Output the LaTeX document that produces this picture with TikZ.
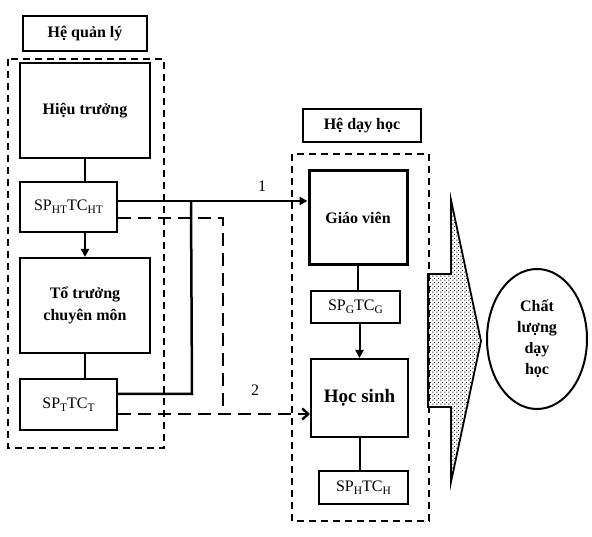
\documentclass[tikz,border=0pt]{standalone}
\usepackage{fontspec}
\setmainfont{Liberation Serif}
\usetikzlibrary{arrows.meta,patterns.meta,calc,shapes.geometric}
\newcommand\lowsub[1]{\raisebox{-0.4ex}{\fontsize{11.5}{11.5}\selectfont #1}}
\tikzdeclarepattern{
  name=sparsedots,
  type=uncolored,
  bottom left={(0pt,0pt)},
  top right={(4pt,4pt)},
  tile size={(4pt,4pt)},
  code={
    \pgfpathrectangle{\pgfpoint{0.6pt}{0.6pt}}{\pgfpoint{1pt}{1pt}}
    \pgfpathrectangle{\pgfpoint{2.6pt}{2.6pt}}{\pgfpoint{1pt}{1pt}}
    \pgfusepath{fill}
  }
}
\begin{document}
\begin{tikzpicture}[x=1pt,y=-1pt,
  box/.style={draw, line width=2pt, inner sep=0pt, align=center,
    font=\bfseries\fontsize{16}{22}\selectfont},
  thickbox/.style={box, line width=3pt},
  spbox/.style={draw, line width=2pt, inner sep=0pt, align=center,
    font=\fontsize{16}{20}\selectfont},
  grp/.style={draw, line width=1.8pt, dash pattern=on 7pt off 5pt},
  conn/.style={line width=2.5pt},
  thinconn/.style={line width=2pt},
  dconn/.style={line width=2.8pt, dash pattern=on 13pt off 7pt},
  tip/.style={-{Triangle[length=8pt,width=8pt]}},
  barb/.style={-{Straight Barb[length=6pt,width=11pt,line width=2.4pt]}},
  lbl/.style={font=\fontsize{16}{16}\selectfont}
]
\useasboundingbox (0,0) rectangle (592,537);

% group frames
\draw[grp] (8,59) rectangle (164,448);
\draw[grp] (292,154) rectangle (429,521);

% left system
\node[box, minimum width=124pt, minimum height=35pt] (hql) at (85,33.5) {Hệ quản lý};
\node[box, minimum width=130pt, minimum height=95pt] (ht) at (85,110.5) {Hiệu trưởng};
\node[spbox, minimum width=97pt, minimum height=50pt] (spht) at (68.5,207)
  {\raisebox{4pt}{SP\lowsub{HT}TC\lowsub{HT}}};
\node[box, minimum width=130pt, minimum height=95pt] (tt) at (85,305.5) {Tổ trưởng\\chuyên môn};
\node[spbox, minimum width=97pt, minimum height=51pt] (spt) at (68.5,404.5)
  {\raisebox{-4pt}{SP\lowsub{T}TC\lowsub{T}}};

% right system
\node[box, minimum width=118pt, minimum height=33pt] (hdh) at (362,125.5) {Hệ dạy học};
\node[thickbox, minimum width=98pt, minimum height=94pt] (gv) at (358,218) {\raisebox{-4pt}{Giáo viên}};
\node[spbox, minimum width=89pt, minimum height=32pt] (spg) at (355.5,307) {SP\lowsub{G}TC\lowsub{G}};
\node[box, minimum width=97pt, minimum height=78pt, font=\bfseries\fontsize{19}{22}\selectfont] (hs) at (359.5,398) {Học sinh};
\node[spbox, minimum width=89pt, minimum height=33pt] (sph) at (363.5,487.5) {SP\lowsub{H}TC\lowsub{H}};

% result
\node[draw, ellipse, line width=2pt, minimum width=100pt, minimum height=140pt, inner sep=0pt,
  align=center, font=\bfseries\fontsize{16}{21}\selectfont] (cl) at (537,339) {Chất\\lượng\\dạy\\học};

% big arrow
\draw[line width=1.8pt, pattern={sparsedots}, pattern color=black]
  (428,274) -- (451,274) -- (451,200) -- (481,341) -- (451,482) -- (451,407) -- (428,407) -- cycle;

% vertical links
\draw[conn] (ht.south) -- (ht.south |- spht.north);
\draw[conn, tip] (tt.north |- spht.south) -- (tt.north);
\draw[conn] (tt.south) -- (tt.south |- spt.north);
\draw[thinconn] (gv.south) -- (gv.south |- spg.north);
\draw[thinconn, tip] (hs.north |- spg.south) -- (hs.north);
\draw[thinconn] (hs.south) -- (hs.south |- sph.north);

% line 1 (solid)
\coordinate (k1) at (191,201);
\coordinate (k2) at (192,394);
\draw[conn, tip] ([yshift=6pt]spht.east) coordinate (s1) -- (gv.west |- s1);
\draw[conn] (k1) -- (k2) -- (spt.east |- k2);
\node[lbl] (n1) at (262,186) {1};

% line 2 (dashed)
\coordinate (d1) at (223,218);
\coordinate (d2) at (223,414);
\draw[dconn] ([yshift=-11pt]spht.east) -- (d1) -- (d2);
\draw[dconn, barb] ([yshift=-9.5pt]spt.east) coordinate (s2) -- (hs.west |- s2);
\node[lbl] (n2) at (255,390) {2};
\end{tikzpicture}
\end{document}
